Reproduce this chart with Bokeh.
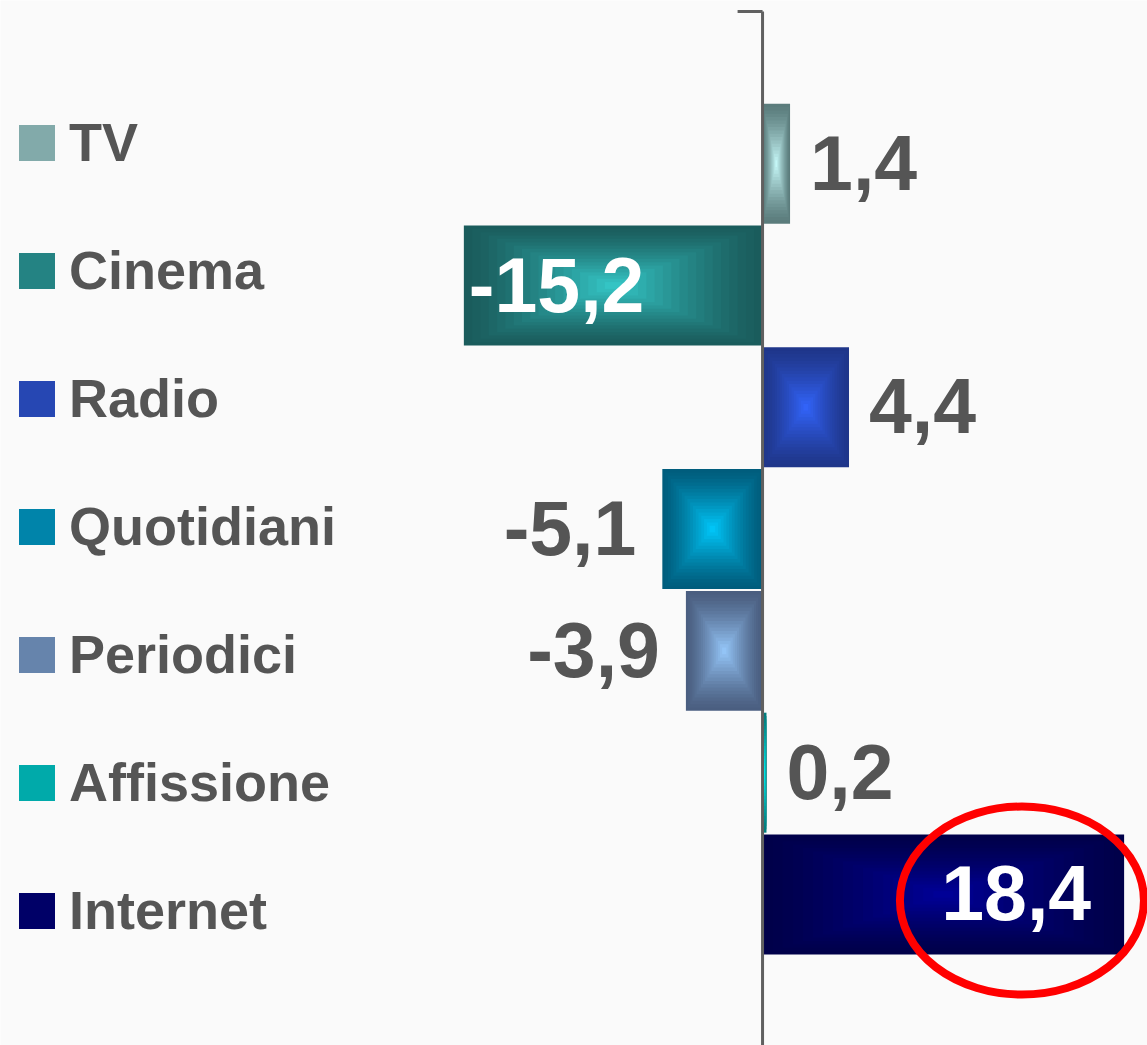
import numpy as np
from bokeh.plotting import figure
from bokeh.models import Range1d, Legend, LegendItem, ColumnDataSource
from bokeh.core.properties import value
from bokeh.embed import file_html
from bokeh.resources import INLINE

# ---- data ----
categories = ["TV", "Cinema", "Radio", "Quotidiani", "Periodici", "Affissione", "Internet"]
values = [1.4, -15.2, 4.4, -5.1, -3.9, 0.2, 18.4]
value_labels = ["1,4", "-15,2", "4,4", "-5,1", "-3,9", "0,2", "18,4"]
highlight = "Internet"

# gradient colours (edge -> centre) per category
edge_colors = ["#5b7c7c", "#1a5c5c", "#1f368a", "#005d7d", "#4a5e80", "#007d7d", "#00004a"]
center_colors = ["#ccffff", "#36cccc", "#3366ff", "#00ccff", "#99ccff", "#00ffff", "#00009c"]

FONT_NAME = "Liberation Sans"
FONT = value(FONT_NAME)
GREY = "#555555"

n = len(categories)
ypos = [float(n - 1 - i) for i in range(n)]

p = figure(width=1147, height=1045, output_backend="svg", toolbar_location=None,
           x_range=Range1d(-38.78, 19.59), y_range=Range1d(-1.24, 7.34),
           x_axis_location=None, y_axis_location=None, min_border=0)
p.background_fill_color = "#fafafa"
p.border_fill_color = "#fafafa"
p.outline_line_color = None
p.xgrid.visible = False
p.ygrid.visible = False


def h2rgb(h):
    h = h.lstrip("#")
    return [int(h[i:i + 2], 16) for i in (0, 2, 4)]


def mix(a, b, t):
    A, B = h2rgb(a), h2rgb(b)
    return "#%02x%02x%02x" % tuple(int(round(A[j] + (B[j] - A[j]) * t)) for j in range(3))


# ---- bars, drawn as concentric layers to mimic the pyramid gradient ----
N = 18
layer_renderers = []
for k in range(N):
    f = k / N
    t = f ** 1.3
    cols = [mix(e, c, t) for e, c in zip(edge_colors, center_colors)]
    left = [v / 2 - abs(v) * (1 - f) / 2 for v in values]
    right = [v / 2 + abs(v) * (1 - f) / 2 for v in values]
    src = ColumnDataSource(dict(y=ypos, left=left, right=right, color=cols, cat=categories))
    r = p.hbar(y="y", left="left", right="right", height=0.985 * (1 - f), source=src,
               fill_color="color", line_color=None)
    layer_renderers.append(r)

# ---- axis line with top tick ----
AXIS_TOP = 7.25
p.segment(x0=[0], x1=[0], y0=[AXIS_TOP], y1=[-1.24], line_color="#606060", line_width=3)
p.segment(x0=[-1.27], x1=[0], y0=[AXIS_TOP], y1=[AXIS_TOP], line_color="#606060", line_width=3)

# ---- value labels ----
groups = {
    "pos_out": dict(align="left", off=20, color=GREY),
    "neg_out": dict(align="right", off=-26, color=GREY),
    "neg_in": dict(align="left", off=5, color="white"),
    "pos_in": dict(align="right", off=-33, color="white"),
}
for key, st in groups.items():
    xs, ys, ts = [], [], []
    for v, y, lab in zip(values, ypos, value_labels):
        inside = abs(v) > 10
        g = ("pos" if v >= 0 else "neg") + ("_in" if inside else "_out")
        if g == key:
            xs.append(v)
            ys.append(y)
            ts.append(lab)
    if xs:
        p.text(x=xs, y=ys, text=ts, text_align=st["align"], text_baseline="middle",
               x_offset=st["off"], y_offset=-1, text_color=st["color"], text_font=FONT,
               text_font_size="77px", text_font_style="bold")

# ---- highlight ellipse ----
hi = categories.index(highlight)
p.ellipse(x=[values[hi] - 5.2], y=[ypos[hi] - 0.05], width=[244], height=[188],
          width_units="screen", height_units="screen", fill_alpha=0,
          line_color="#ff0000", line_width=8)

# ---- legend ----
leg_r = layer_renderers[int(N * 0.45)]
items = [LegendItem(label=categories[i], renderers=[leg_r], index=i) for i in range(n)]
legend = Legend(items=items, location=(14, 104), orientation="vertical",
                glyph_width=45, glyph_height=45, label_standoff=10,
                label_text_font=FONT_NAME, label_text_font_size="54px",
                label_text_font_style="bold", label_text_color=GREY,
                label_height=60, spacing=66, padding=0, margin=0,
                background_fill_alpha=0, border_line_alpha=0)
p.add_layout(legend, "center")

open("out.html", "w").write(file_html(p, INLINE))
